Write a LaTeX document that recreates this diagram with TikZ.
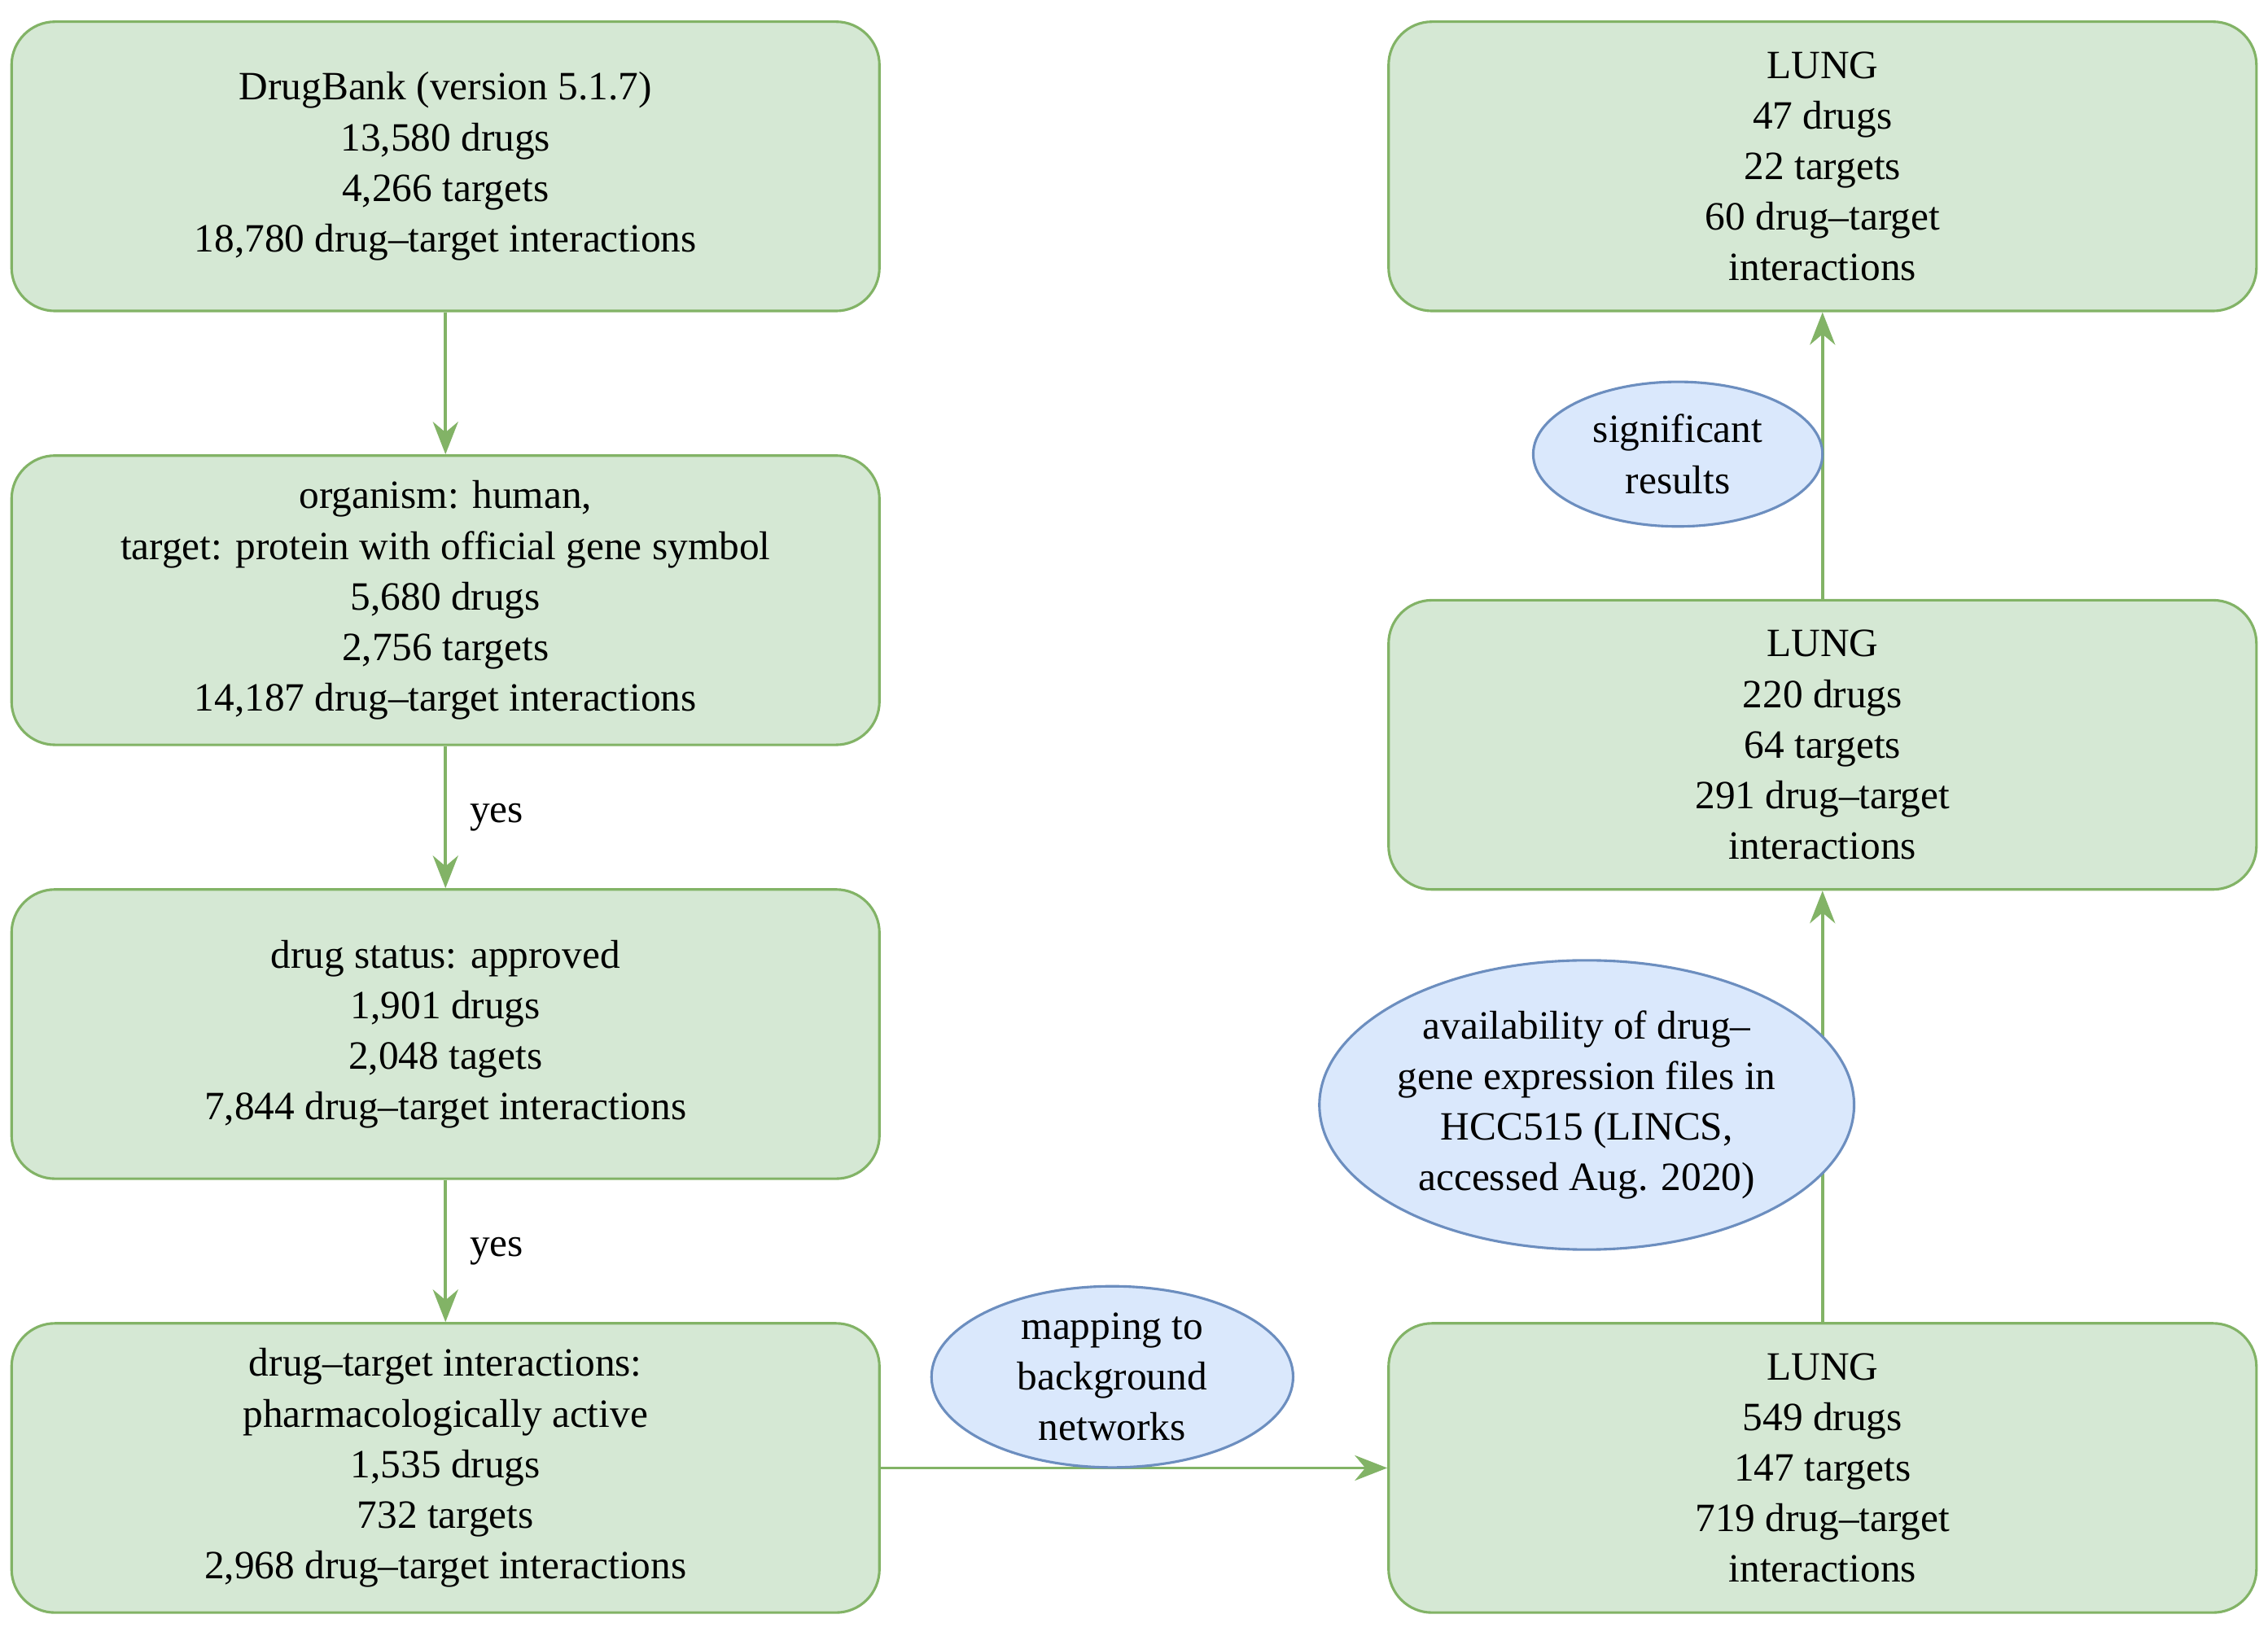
\documentclass[tikz,border=0pt]{standalone}
\usepackage{fontspec}
\setmainfont{Liberation Serif}
\usetikzlibrary{arrows.meta,shapes.geometric}
\definecolor{boxfill}{HTML}{D5E8D4}
\definecolor{boxline}{HTML}{82B366}
\definecolor{ellfill}{HTML}{DAE8FC}
\definecolor{ellline}{HTML}{6C8EBF}
\begin{document}
\begin{tikzpicture}[x=0.2mm,y=-0.2mm,
    font=\fontsize{15.8}{19.9}\selectfont,
    stage/.style={draw=boxline,fill=boxfill,line width=1pt,rounded corners=6mm,
        minimum width=120mm,minimum height=40mm,align=center,inner sep=2pt},
    note/.style={draw=ellline,fill=ellfill,line width=1pt,ellipse,align=center,inner sep=0pt},
    flow/.style={draw=boxline,line width=1.2pt,-{Stealth[length=4.5mm,width=3.5mm]}}]
    \useasboundingbox (0,0) rectangle (1568,1128);

    % Left column
    \node[stage] (bank) at (308,115) {DrugBank (version 5.1.7)\\13,580 drugs\\4,266 targets\\18,780 drug--target interactions};
    \node[stage] (human) at (308,415) {organism: human,\\target: protein with official gene symbol\\5,680 drugs\\2,756 targets\\14,187 drug--target interactions};
    \node[stage] (approved) at (308,715) {drug status: approved\\1,901 drugs\\2,048 tagets\\7,844 drug--target interactions};
    \node[stage] (active) at (308,1015) {drug--target interactions:\\pharmacologically active\\1,535 drugs\\732 targets\\2,968 drug--target interactions};

    % Right column
    \node[stage] (lungA) at (1260,1015) {LUNG\\549 drugs\\147 targets\\719 drug--target\\interactions};
    \node[stage] (lungB) at (1260,515) {LUNG\\220 drugs\\64 targets\\291 drug--target\\interactions};
    \node[stage] (lungC) at (1260,115) {LUNG\\47 drugs\\22 targets\\60 drug--target\\interactions};

    % Connectors
    \draw[flow] (bank) -- (human);
    \draw[flow] (human) -- node[right,xshift=2mm] {yes} (approved);
    \draw[flow] (approved) -- node[right,xshift=2mm] {yes} (active);
    \draw[flow] (active) -- (lungA);
    \draw[flow] (lungA) -- (lungB);
    \draw[flow] (lungB) -- (lungC);

    % Notes
    \node[note,minimum width=50mm,minimum height=25mm] (mapping) at (769,952) {mapping to\\background\\networks};
    \node[note,minimum width=65mm,minimum height=40mm] (avail) at (1097,764) {availability of drug--\\gene expression files in\\HCC515 (LINCS,\\accessed Aug. 2020)};
    \node[note,minimum width=40mm,minimum height=20mm] (signif) at (1160,314) {significant\\results};
\end{tikzpicture}
\end{document}
